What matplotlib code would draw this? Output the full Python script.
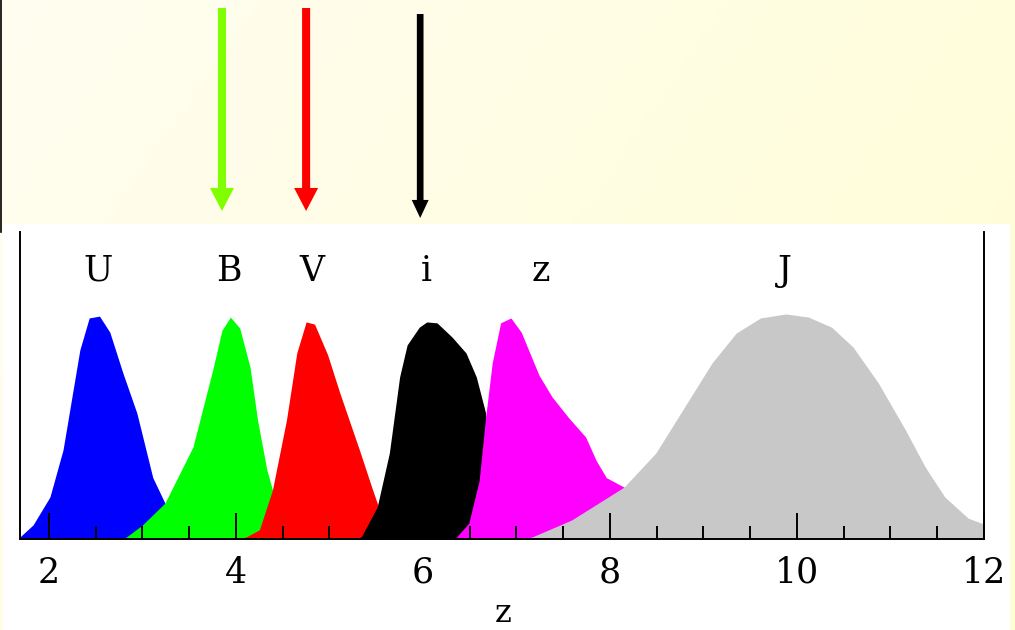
import numpy as np
import matplotlib
matplotlib.use("Agg")
import matplotlib.pyplot as plt
from matplotlib.lines import Line2D
from matplotlib.patches import Rectangle

# ==== DATA ====
filters = ["U", "B", "V", "i", "z", "J"]
colors = ["#0000ff", "#00ff00", "#ff0000", "#000000", "#ff00ff", "#c8c8c8"]

u_x = [1.69, 1.83, 2.01, 2.15, 2.33, 2.43, 2.54, 2.65, 2.79, 2.94, 3.11, 3.24, 3.40, 3.56]
u_y = [0.007, 0.046, 0.137, 0.29, 0.616, 0.72, 0.726, 0.674, 0.541, 0.41, 0.20, 0.117, 0.046, 0.0]

b_x = [2.76, 2.83, 3.00, 3.24, 3.54, 3.75, 3.85, 3.94, 4.04, 4.15, 4.23, 4.33, 4.39, 4.47, 4.54]
b_y = [0.0, 0.007, 0.046, 0.117, 0.30, 0.55, 0.68, 0.723, 0.687, 0.56, 0.388, 0.225, 0.16, 0.06, 0.0]

v_x = [4.04, 4.11, 4.25, 4.39, 4.54, 4.65, 4.75, 4.84, 4.98, 5.11, 5.32, 5.45, 5.51, 5.59, 5.64]
v_y = [0.0, 0.007, 0.03, 0.16, 0.388, 0.606, 0.707, 0.70, 0.60, 0.476, 0.29, 0.17, 0.117, 0.046, 0.0]

i_x = [5.27, 5.34, 5.51, 5.64, 5.75, 5.83, 5.96, 6.04, 6.15, 6.31, 6.46, 6.57, 6.67, 6.71, 6.76]
i_y = [0.0, 0.007, 0.104, 0.28, 0.528, 0.632, 0.69, 0.707, 0.704, 0.658, 0.606, 0.528, 0.41, 0.225, 0.0]

z_x = [6.33, 6.36, 6.49, 6.60, 6.67, 6.74, 6.83, 6.94, 7.05, 7.24, 7.38, 7.56, 7.74, 7.85, 7.96, 8.15, 8.31, 8.52, 8.73]
z_y = [0.0, 0.007, 0.052, 0.19, 0.397, 0.573, 0.704, 0.72, 0.674, 0.534, 0.463, 0.394, 0.332, 0.257, 0.20, 0.169, 0.127, 0.06, 0.0]

j_x = [7.08, 7.17, 7.59, 8.15, 8.49, 8.73, 9.09, 9.35, 9.61, 9.88, 10.12, 10.37, 10.60, 10.87, 11.16, 11.37, 11.58, 11.83, 11.97, 12.0]
j_y = [0.0, 0.007, 0.062, 0.169, 0.28, 0.397, 0.573, 0.671, 0.72, 0.733, 0.723, 0.69, 0.625, 0.508, 0.355, 0.235, 0.137, 0.068, 0.052, 0.05]

curves_x = [u_x, b_x, v_x, i_x, z_x, j_x]
curves_y = [u_y, b_y, v_y, i_y, z_y, j_y]

label_x = [2.52, 3.92, 4.81, 6.04, 7.26, 9.87]
label_y = 0.874

# arrows above the plot (redshift where the break leaves B, V, i)
arrow_z = [3.85, 4.75, 5.97]
arrow_colors = ["#80ff00", "#ff0000", "#000000"]

xticks_major = [2, 4, 6, 8, 10, 12]

# ==== FIGURE ====
W, H = 1015, 630
fig = plt.figure(figsize=(W / 100, H / 100), dpi=100)

# pale yellow slide background (diagonal gradient)
bg = fig.add_axes([0, 0, 1, 1], zorder=-10)
gx, gy = np.meshgrid(np.linspace(0, 1, 200), np.linspace(0, 1, 200))
t = (0.7 * gx + 0.3 * gy)
c0 = np.array([255, 254, 240]) / 255
c1 = np.array([255, 253, 212]) / 255
img = c0[None, None, :] * (1 - t[..., None]) + c1[None, None, :] * t[..., None]
bg.imshow(img, aspect="auto", extent=[0, 1, 0, 1], origin="upper")
bg.set_axis_off()

# white panel of the pasted plot
fig.add_artist(Rectangle((3 / W, 0), 1007 / W, (H - 224) / H, transform=fig.transFigure,
                         facecolor="white", edgecolor="none", zorder=-5))
fig.add_artist(Line2D([0.8 / W, 0.8 / W], [1, 1 - 232 / H], transform=fig.transFigure,
                      color="black", lw=1.2))

ax = fig.add_axes([20 / W, (H - 539) / H, (984 - 20) / W, (539 - 232) / H])
ax.patch.set_alpha(0)

for cx, cy, col in zip(curves_x, curves_y, colors):
    ax.fill_between(cx, cy, 0, color=col, linewidth=0)

font = "DejaVu Serif"
for name, lx in zip(filters, label_x):
    ax.text(lx, label_y, name, ha="center", va="center", fontsize=25, family=font)

ax.set_xlim(1.69, 12.0)
ax.set_ylim(0, 1)
ax.spines["top"].set_visible(False)
for s in ["left", "right", "bottom"]:
    ax.spines[s].set_linewidth(1.4)
ax.set_yticks([])
ax.set_xticks(xticks_major)
ax.set_xticks(np.arange(2.5, 12, 0.5), minor=True)
ax.tick_params(axis="x", which="major", direction="in", length=18.5, width=1.4, pad=12,
               labelsize=25)
ax.tick_params(axis="x", which="minor", direction="in", length=9.4, width=1.4)
for lab in ax.get_xticklabels():
    lab.set_family(font)
# label sits at the very bottom of the slide; keep the whole box inside
ax.set_xlabel("z", fontsize=23, family=font, va="bottom")
ax.xaxis.set_label_coords(0.501, -0.294)

for az, ac in zip(arrow_z, arrow_colors):
    if ac == "#000000":
        top, tip, style = 14, 218, "simple,head_length=1.3,head_width=1.22,tail_width=0.48"
    else:
        top, tip, style = 8, 211, "simple,head_length=1.66,head_width=1.73,tail_width=0.58"
    ax.annotate("", xy=(az, 1 - tip / H), xytext=(az, 1 - top / H),
                xycoords=("data", "figure fraction"), textcoords=("data", "figure fraction"),
                arrowprops=dict(arrowstyle=style, color=ac, shrinkA=0, shrinkB=0,
                                mutation_scale=10, lw=0),
                annotation_clip=False)

fig.savefig("out.png", dpi=100)
